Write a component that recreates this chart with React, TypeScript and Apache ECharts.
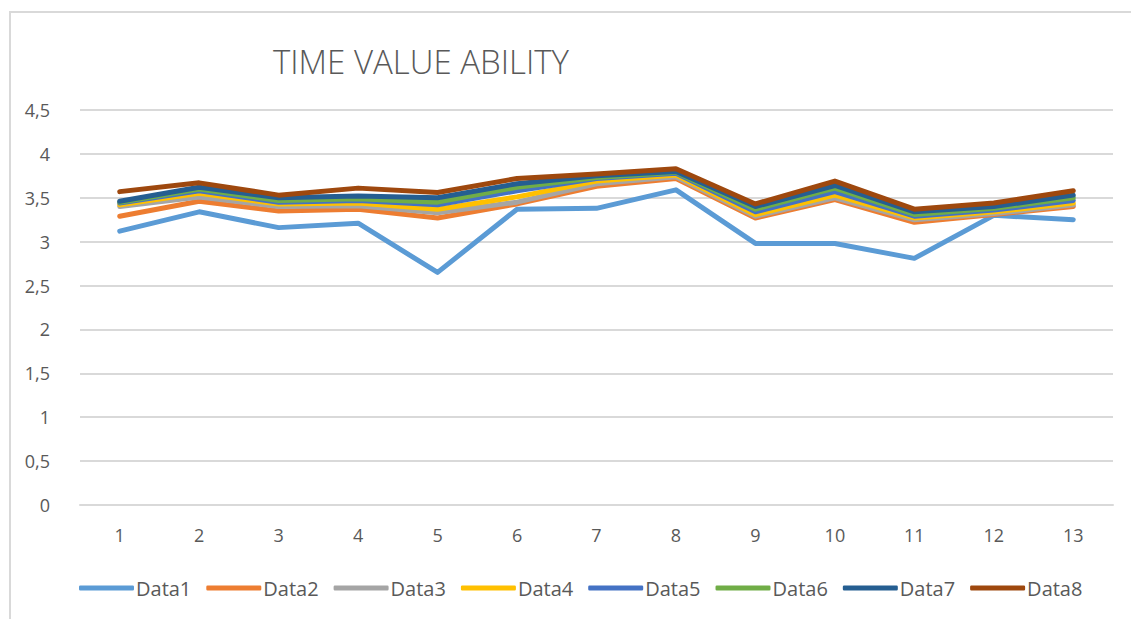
import React, { useEffect, useRef } from "react";
import * as echarts from "echarts";

const categories = ["1", "2", "3", "4", "5", "6", "7", "8", "9", "10", "11", "12", "13"];
const seriesNames = ["Data1", "Data2", "Data3", "Data4", "Data5", "Data6", "Data7", "Data8"];
const data1 = [3.12, 3.34, 3.16, 3.21, 2.65, 3.37, 3.38, 3.59, 2.98, 2.98, 2.81, 3.3, 3.25];
const data2 = [3.29, 3.46, 3.35, 3.37, 3.27, 3.43, 3.63, 3.72, 3.27, 3.48, 3.22, 3.31, 3.4];
const data3 = [3.4, 3.51, 3.4, 3.41, 3.33, 3.45, 3.66, 3.74, 3.29, 3.5, 3.25, 3.32, 3.42];
const data4 = [3.42, 3.55, 3.43, 3.44, 3.37, 3.51, 3.69, 3.76, 3.31, 3.53, 3.27, 3.34, 3.44];
const data5 = [3.44, 3.58, 3.45, 3.47, 3.42, 3.58, 3.72, 3.78, 3.34, 3.57, 3.29, 3.36, 3.47];
const data6 = [3.45, 3.6, 3.47, 3.49, 3.45, 3.62, 3.73, 3.79, 3.37, 3.61, 3.31, 3.38, 3.5];
const data7 = [3.46, 3.62, 3.5, 3.52, 3.5, 3.66, 3.75, 3.8, 3.4, 3.64, 3.34, 3.4, 3.53];
const data8 = [3.57, 3.67, 3.53, 3.61, 3.56, 3.72, 3.77, 3.83, 3.43, 3.69, 3.37, 3.44, 3.58];
const allData = [data1, data2, data3, data4, data5, data6, data7, data8];
const colors = ["#5B9BD5", "#ED7D31", "#A5A5A5", "#FFC000", "#4472C4", "#70AD47", "#255E91", "#9E480E"];
const titleText = "TIME VALUE ABILITY";

export default function App() {
  const ref = useRef<HTMLDivElement>(null);
  useEffect(() => {
    if (!ref.current) return;
    const chart = echarts.init(ref.current, null, { renderer: "svg" });
    chart.setOption({
      animation: false,
      backgroundColor: "#ffffff",
      color: colors,
      title: {
        text: titleText,
        left: 268,
        top: 40,
        textStyle: {
          fontFamily: "Open Sans",
          fontSize: 33,
          fontWeight: 300,
          color: "#595959",
        },
      },
      graphic: [
        {
          type: "rect",
          shape: { x: 10, y: 12, width: 1140, height: 640 },
          style: { fill: "none", stroke: "#D9D9D9", lineWidth: 2 },
          silent: true,
        },
      ],
      legend: {
        left: 74,
        top: 573,
        icon: "roundRect",
        itemWidth: 55,
        itemHeight: 5,
        itemGap: 15,
        textStyle: {
          fontFamily: "Open Sans",
          fontSize: 20,
          color: "#595959",
          padding: [0, 0, 0, -3],
        },
        data: seriesNames,
      },
      grid: { left: 80, right: 18, top: 110, bottom: 114, containLabel: false },
      xAxis: {
        type: "category",
        data: categories,
        boundaryGap: true,
        axisLine: { show: true, lineStyle: { color: "#D9D9D9", width: 2 } },
        axisTick: { show: false },
        axisLabel: {
          color: "#595959",
          fontFamily: "Open Sans",
          fontSize: 18,
          margin: 21,
        },
      },
      yAxis: {
        type: "value",
        min: 0,
        max: 4.5,
        interval: 0.5,
        axisLine: { show: false },
        axisTick: { show: false },
        splitLine: { lineStyle: { color: "#D9D9D9", width: 2 } },
        axisLabel: {
          color: "#595959",
          fontFamily: "Open Sans",
          fontSize: 18,
          margin: 30,
          formatter: (v: number) => String(v).replace(".", ","),
        },
      },
      series: seriesNames.map((name, i) => ({
        name,
        type: "line",
        data: allData[i],
        showSymbol: false,
        symbol: "none",
        lineStyle: { width: 5, color: colors[i], cap: "round", join: "round" },
        itemStyle: { color: colors[i] },
      })),
    });
    return () => chart.dispose();
  }, []);
  return (
    <div
      ref={ref}
      style={{ position: "fixed", left: 0, top: 0, width: 1131, height: 619 }}
    />
  );
}
